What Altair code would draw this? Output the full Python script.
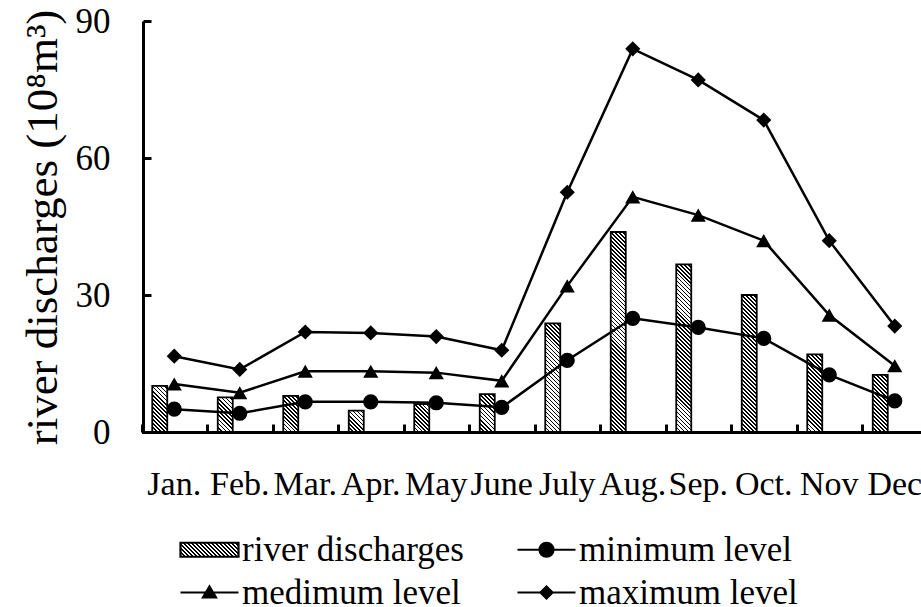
import json

import altair as alt
import pandas as pd

# Monthly river discharge and three reference levels (10^8 m^3)
months = ["Jan.", "Feb.", "Mar.", "Apr.", "May", "June",
          "July", "Aug.", "Sep.", "Oct.", "Nov", "Dec"]
discharge = [10.1, 7.6, 7.9, 4.7, 6.1, 8.3, 23.8, 43.8, 36.7, 30.0, 17.0, 12.5]
minimum = [5.0, 4.1, 6.6, 6.6, 6.4, 5.4, 15.7, 24.9, 22.9, 20.5, 12.5, 6.8]
medium = [10.5, 8.6, 13.3, 13.3, 13.0, 11.2, 32.0, 51.5, 47.5, 41.9, 25.6, 14.5]
maximum = [16.6, 13.7, 21.9, 21.7, 20.9, 17.9, 52.5, 83.9, 77.1, 68.3, 41.9, 23.2]

level_names = ["minimum level", "medimum level", "maximum level"]
legend_names = ["river discharges", "minimum level", "medimum level", "maximum level"]
y_ticks = [0, 30, 60, 90]
y_title = "river discharges (10⁸m³)"

FONT = "Times New Roman"
INK = "black"
W, H = 778, 411          # plot area
LEFT, TOP, BOTTOM = 143, 21, 175
Y_MAX = 90
BAR_W = 15
SWATCH_W, SWATCH_H = 58, 14

bars_df = pd.DataFrame({"month": months, "value": discharge})
levels_df = pd.DataFrame({
    "month": months * 3,
    "value": minimum + medium + maximum,
    "series": [n for n in level_names for _ in months],
})
legend_df = pd.DataFrame({"entry": legend_names})


def hatch(w, h, period=4.0, dark=0.42):
    """Diagonal '\\' hatching as a linear gradient over a w x h box."""
    d = w * w + h * h
    x2 = (w + h) * w / d
    y2 = 1 - (w + h) * h / d
    n = max(1, round((w + h) / period))
    stops = []
    for k in range(n):
        a, b, c = k / n, (k + dark) / n, (k + 1) / n
        stops += [
            {"offset": round(a, 5), "color": INK},
            {"offset": round(b, 5), "color": INK},
            {"offset": round(b, 5), "color": "white"},
            {"offset": round(c, 5), "color": "white"},
        ]
    return {"gradient": "linear", "x1": 0, "y1": 1,
            "x2": round(x2, 6), "y2": round(y2, 6), "stops": stops}


x_scale = alt.Scale(domain=months, range=[-1.5, 784.5],
                    paddingInner=0, paddingOuter=0)
y_scale = alt.Scale(domain=[0, Y_MAX])

bottom_axis = alt.Axis(
    orient="bottom", domain=True, domainColor=INK, domainWidth=3,
    ticks=False, grid=False, title=None,
    labelFont=FONT, labelFontSize=34, labelColor=INK, labelPadding=35,
    labelAngle=0, labelOverlap=False, labelLimit=0,
)
left_axis = alt.Axis(
    orient="left", values=y_ticks, domain=True, domainColor=INK, domainWidth=3,
    ticks=False, grid=False,
    labelFont=FONT, labelFontSize=35, labelColor=INK, labelPadding=33,
    title=y_title, titleFont=FONT, titleFontSize=45,
    titleFontWeight="normal",
    titleColor=INK, titleX=-87, titleY=206, titleAngle=270,
    titleAlign="center", titleBaseline="alphabetic",
)
# inward-pointing tick marks, drawn by axes mirrored onto the plot edges
inner_x_ticks = alt.Axis(
    orient="top", offset=-H, domain=False, labels=False, grid=False, title=None,
    ticks=True, tickBand="extent", tickSize=8, tickWidth=3, tickColor=INK,
)
inner_y_ticks = alt.Axis(
    orient="right", offset=-W, values=y_ticks, domain=False, labels=False,
    grid=False, title=None, ticks=True, tickSize=8, tickWidth=3, tickColor=INK,
)

# one layer per bar so each gets hatching sized to its own box
bar_layers = []
for m, v in zip(months, discharge):
    bar_layers.append(
        alt.Chart(bars_df)
        .transform_filter(alt.datum.month == m)
        .mark_bar(width=BAR_W, xOffset=-14.5, stroke=INK, strokeWidth=1.8,
                  fill=hatch(BAR_W, v * H / Y_MAX))
        .encode(
            x=alt.X("month:N", scale=x_scale, axis=None),
            y=alt.Y("value:Q", scale=y_scale, axis=None),
        )
    )

lines = alt.Chart(levels_df).mark_line(color=INK, strokeWidth=2.5).encode(
    x=alt.X("month:N", scale=x_scale, axis=bottom_axis),
    y=alt.Y("value:Q", scale=y_scale, axis=left_axis),
    detail="series:N",
)

points = alt.Chart(levels_df).mark_point(
    filled=True, color=INK, size=230, opacity=1
).encode(
    x=alt.X("month:N", scale=x_scale, axis=inner_x_ticks),
    y=alt.Y("value:Q", scale=y_scale, axis=inner_y_ticks),
    shape=alt.Shape(
        "series:N",
        scale=alt.Scale(domain=level_names,
                        range=["circle", "triangle-up", "diamond"]),
        legend=None,
    ),
)

# legend symbols (10 px per path unit): hatched swatch and line-with-marker glyphs
LEG_SIZE = 400
legend_shapes = [
    "M-2.9,-0.7H2.9V0.7H-2.9Z",
    "M-2.9,0H2.9M-0.7,0A0.7,0.7,0,1,1,0.7,0A0.7,0.7,0,1,1,-0.7,0Z",
    "M-2.9,0H2.9M0,-0.6L0.65,0.5L-0.65,0.5Z",
    "M-2.9,0H2.9M0,-0.6L0.6,0L0,0.6L-0.6,0Z",
]
swatch_fill = alt.ExprRef(json.dumps(hatch(SWATCH_W, SWATCH_H)))

legend_spec = alt.Legend(
    title=None, orient="none", legendX=49, legendY=532 - TOP,
    direction="horizontal", columns=2, padding=0,
    symbolSize=LEG_SIZE, symbolStrokeWidth=2.2, symbolStrokeColor=INK,
    symbolOpacity=1,
    labelFont=FONT, labelFontSize=35, labelColor=INK,
    labelOffset=15, labelLimit=400,
    rowPadding=7, columnPadding=49,
)

legend_layer = (
    alt.Chart(legend_df)
    .transform_filter("false")
    .mark_point(filled=True, opacity=1, strokeWidth=2.2)
    .encode(
        fill=alt.Fill(
            "entry:N",
            scale=alt.Scale(domain=legend_names,
                            range=[swatch_fill, INK, INK, INK]),
            legend=legend_spec,
        ),
        stroke=alt.Stroke(
            "entry:N",
            scale=alt.Scale(domain=legend_names, range=[INK] * 4),
            legend=legend_spec,
        ),
        shape=alt.Shape(
            "entry:N",
            scale=alt.Scale(domain=legend_names, range=legend_shapes),
            legend=legend_spec,
        ),
    )
)

chart = (
    alt.layer(*bar_layers, lines, points, legend_layer)
    .resolve_scale(shape="independent", fill="independent", stroke="independent")
    .resolve_legend(shape="independent", fill="independent", stroke="independent")
    .resolve_axis(x="independent", y="independent")
    .properties(
        width=W, height=H, autosize="none",
        padding={"left": LEFT, "top": TOP, "right": 0, "bottom": BOTTOM},
        background="white",
    )
    .configure_view(stroke=None)
)

chart.save("out.html", embed_options={"renderer": "svg", "actions": False})
